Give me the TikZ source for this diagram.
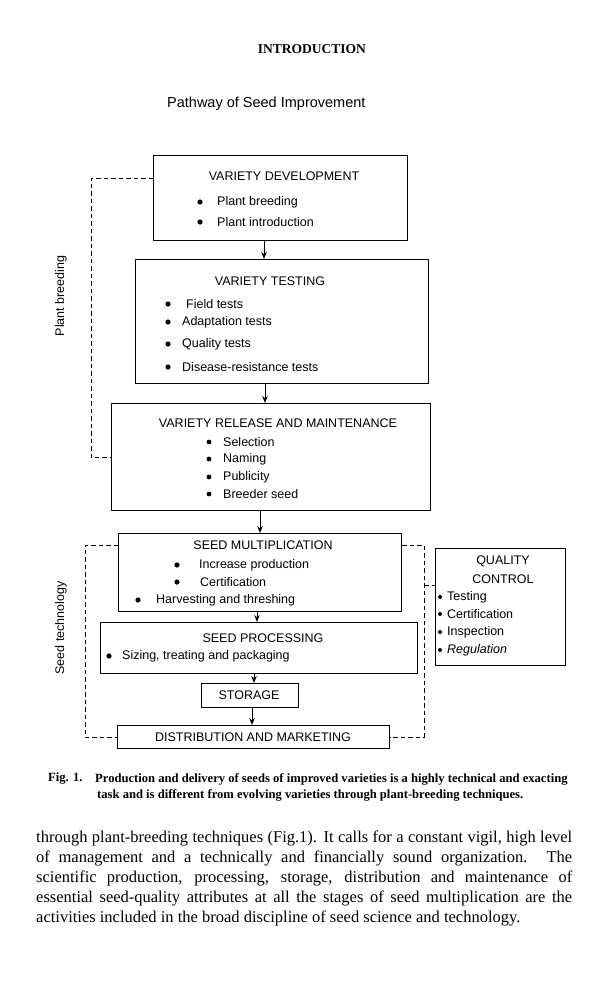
\documentclass[tikz,border=0pt]{standalone}
\usepackage{fontspec}
\setmainfont{Liberation Serif}
\newfontfamily\hv{Liberation Sans}
\usetikzlibrary{arrows.meta}
\begin{document}
\begin{tikzpicture}[x=1pt,y=-1pt,
  box/.style={draw, line width=1.1pt, anchor=north west, inner sep=0pt},
  ttl/.style={font=\hv\fontsize{12.5}{14}\selectfont, inner sep=0pt},
  itm/.style={font=\hv\fontsize{12.5}{14}\selectfont, anchor=west, inner sep=0pt},
  flow/.style={-{Stealth[length=7pt,width=5.5pt]}, line width=1pt},
  dashline/.style={dash pattern=on 4.5pt off 3pt, line width=0.8pt},
  bul/.style={fill=black},
  captext/.style={font=\bfseries\fontsize{12.6}{15}\selectfont, anchor=west, inner sep=0pt},
  bodytext/.style={font=\fontsize{16.5}{20}\selectfont, anchor=west, inner sep=0pt}
]
\useasboundingbox (0,0) rectangle (611,999);
\fill[white] (0,0) rectangle (611,999);

% header
\node[font=\bfseries\fontsize{13.5}{15}\selectfont, inner sep=0pt] (hdr) at (312,49) {INTRODUCTION};
\node[font=\hv\fontsize{14.5}{16}\selectfont, anchor=west, inner sep=0pt] (sub) at (167,104) {Pathway of Seed Improvement};

% variety development
\node[box, minimum width=254pt, minimum height=85pt] (dev) at (153,155) {};
\node[ttl] (devt) at (284,176) {VARIETY DEVELOPMENT};
\node[itm] (dev1) at (217,202) {Plant breeding};
\node[itm] (dev2) at (217,222) {Plant introduction};
\fill[bul] (200,202) circle (2.6pt);
\fill[bul] (200,222) circle (2.6pt);

% variety testing
\node[box, minimum width=293pt, minimum height=124pt] (tst) at (135,259) {};
\node[ttl] (tstt) at (270,281) {VARIETY TESTING};
\node[itm] (tst1) at (186,304) {Field tests};
\node[itm] (tst2) at (182,322) {Adaptation tests};
\node[itm] (tst3) at (182,344) {Quality tests};
\node[itm] (tst4) at (182,367) {Disease-resistance tests};
\fill[bul] (168,304) circle (2.6pt);
\fill[bul] (168,322) circle (2.6pt);
\fill[bul] (168,344) circle (2.6pt);
\fill[bul] (168,367) circle (2.6pt);

% release
\node[box, minimum width=319pt, minimum height=107pt] (rel) at (111,403) {};
\node[ttl] (relt) at (278,423) {VARIETY RELEASE AND MAINTENANCE};
\node[itm] (rel1) at (223,442) {Selection};
\node[itm] (rel2) at (223,459) {Naming};
\node[itm] (rel3) at (223,477) {Publicity};
\node[itm] (rel4) at (223,494) {Breeder seed};
\fill[bul] (209,442) circle (2.4pt);
\fill[bul] (209,459) circle (2.4pt);
\fill[bul] (209,477) circle (2.4pt);
\fill[bul] (209,494) circle (2.4pt);

% seed multiplication
\node[box, minimum width=283pt, minimum height=78pt] (mul) at (118,533) {};
\node[ttl] (mult) at (263,545) {SEED MULTIPLICATION};
\node[itm] (mul1) at (199,565) {Increase production};
\node[itm] (mul2) at (200,582) {Certification};
\node[itm] (mul3) at (156,600) {Harvesting and threshing};
\fill[bul] (177,565) circle (2.6pt);
\fill[bul] (177,582) circle (2.6pt);
\fill[bul] (138,600) circle (2.6pt);

% seed processing
\node[box, minimum width=317pt, minimum height=51pt] (pro) at (100,622) {};
\node[ttl] (prot) at (263,638) {SEED PROCESSING};
\node[itm] (pro1) at (122,656) {Sizing, treating and packaging};
\fill[bul] (109,656) circle (2.6pt);

% storage
\node[box, minimum width=97pt, minimum height=24pt] (sto) at (201,683) {};
\node[ttl] (stot) at (249,695) {STORAGE};

% distribution
\node[box, minimum width=272pt, minimum height=23pt] (dis) at (117,725) {};
\node[ttl] (dist) at (253,737) {DISTRIBUTION AND MARKETING};

% quality control
\node[box, minimum width=130pt, minimum height=117pt] (qc) at (435,548) {};
\node[ttl] (qct1) at (503,561) {QUALITY};
\node[ttl] (qct2) at (503,579) {CONTROL};
\node[itm] (qc1) at (447,597) {Testing};
\node[itm] (qc2) at (447,614) {Certification};
\node[itm] (qc3) at (447,632) {Inspection};
\node[itm, font=\hv\itshape\fontsize{12.5}{14}\selectfont] (qc4) at (447,650) {Regulation};
\fill[bul] (440,597) circle (2pt);
\fill[bul] (440,614) circle (2pt);
\fill[bul] (440,632) circle (2pt);
\fill[bul] (440,650) circle (2pt);

% side labels
\node[rotate=90, font=\hv\fontsize{12.5}{14}\selectfont, inner sep=0pt] (pbl) at (61,296) {Plant breeding};
\node[rotate=90, font=\hv\fontsize{12.5}{14}\selectfont, inner sep=0pt] (stl) at (61,628) {Seed technology};

% arrows
\coordinate (ax1) at (264,0);
\coordinate (ax2) at (265,0);
\coordinate (ax3) at (260,0);
\coordinate (ax4) at (257,0);
\coordinate (ax5) at (254,0);
\coordinate (ax6) at (252,0);
\draw[flow] (dev.south -| ax1) -- (tst.north -| ax1);
\draw[flow] (tst.south -| ax2) -- (rel.north -| ax2);
\draw[flow] (rel.south -| ax3) -- (mul.north -| ax3);
\draw[flow] (mul.south -| ax4) -- (pro.north -| ax4);
\draw[flow] (pro.south -| ax5) -- (sto.north -| ax5);
\draw[flow] (sto.south -| ax6) -- (dis.north -| ax6);

% dashed brackets
\coordinate (pb) at (91,178);
\draw[dashline] (dev.west |- pb) -- (pb) -- (pb |- rel.west) -- (rel.west);
\coordinate (stL) at (85,545);
\draw[dashline] (mul.west |- stL) -- (stL) -- (stL |- dis.west) -- (dis.west);
\coordinate (stR) at (424,545);
\draw[dashline] (mul.east |- stR) -- (stR) -- (stR |- dis.east) -- (dis.east);
\coordinate (qcy) at (0,585);
\draw[dashline] (stR |- qcy) -- (qc.west |- qcy);

% caption
\node[captext] (figl) at (48,779) {Fig. 1.};
\node[captext] (cap1) at (95,779) {Production and delivery of seeds of improved varieties is a highly technical and exacting};
\node[captext] (cap2) at (97,795) {task and is different from evolving varieties through plant-breeding techniques.};

% body text
\node[bodytext] (b1) at (36,838) {\makebox[536pt][s]{through plant-breeding techniques (Fig.1). It calls for a constant vigil, high level}};
\node[bodytext] (b2) at (36,858) {\makebox[536pt][s]{of management and a technically and financially sound organization. The}};
\node[bodytext] (b3) at (36,878) {\makebox[536pt][s]{scientific production, processing, storage, distribution and maintenance of}};
\node[bodytext] (b4) at (36,898) {\makebox[536pt][s]{essential seed-quality attributes at all the stages of seed multiplication are the}};
\node[bodytext] (b5) at (36,918) {activities included in the broad discipline of seed science and technology.};
\end{tikzpicture}
\end{document}
